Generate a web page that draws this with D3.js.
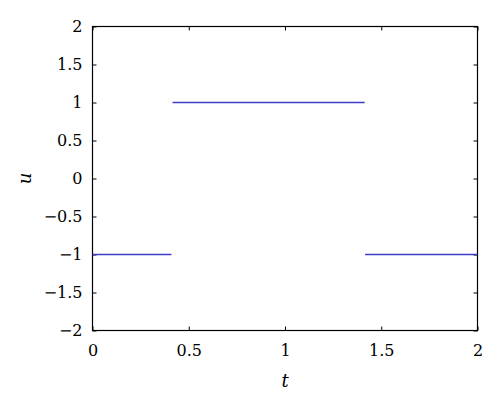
<!DOCTYPE html>
<html>
<head>
<meta charset="utf-8">
<script src="https://cdn.jsdelivr.net/npm/d3@7"></script>
<style>
  body { margin: 0; background: #fff; }
</style>
</head>
<body>
<div id="chart"></div>
<script>
// piecewise control u(t), one entry per segment
const segStart = [0, 0.416, 1.416]
const segEnd = [0.41, 1.414, 2]
const segValue = [-1, 1, -1]

const xTicks = [0, 0.5, 1, 1.5, 2]
const yTicks = [-2, -1.5, -1, -0.5, 0, 0.5, 1, 1.5, 2]

const serif = "'DejaVu Serif', serif"

const W = 500, H = 407
const margin = {top: 26.5, right: 22.5, bottom: 76.5, left: 92.5}
const width = W - margin.left - margin.right
const height = H - margin.top - margin.bottom

const svg = d3.select("#chart")
    .append("svg")
    .attr("width", W)
    .attr("height", H)
    .append("g")
    .attr("transform", "translate(" + margin.left + "," + margin.top + ")")

const x = d3.scaleLinear().domain([0, 2]).range([0, width])
const y = d3.scaleLinear().domain([-2, 2]).range([height, 0])

const fmt = d => d < 0 ? "\u2212" + Math.abs(d) : String(d)

function styleAxis(g, labels) {
    g.attr("font-family", serif)
    g.select(".domain").remove()
    g.selectAll("line").attr("stroke", "#000").attr("stroke-width", 1)
    g.selectAll("text")
        .attr("font-size", 16)
        .attr("fill", "#000")
        .style("font-family", serif)
        .style("display", labels ? null : "none")
}

// bottom & top
svg.append("g")
    .attr("transform", "translate(0," + height + ")")
    .call(d3.axisBottom(x).tickValues(xTicks).tickFormat(fmt).tickSize(-4).tickPadding(14))
    .call(g => styleAxis(g, true))
svg.append("g")
    .call(d3.axisTop(x).tickValues(xTicks).tickSize(-4))
    .call(g => styleAxis(g, false))

// left & right
svg.append("g")
    .call(d3.axisLeft(y).tickValues(yTicks).tickFormat(fmt).tickSize(-4).tickPadding(10))
    .call(g => styleAxis(g, true))
svg.append("g")
    .attr("transform", "translate(" + width + ",0)")
    .call(d3.axisRight(y).tickValues(yTicks).tickSize(-4))
    .call(g => styleAxis(g, false))

// box
svg.append("rect")
    .attr("width", width)
    .attr("height", height)
    .attr("fill", "none")
    .attr("stroke", "#000")
    .attr("stroke-width", 1.2)

// segments
svg.append("g")
    .selectAll("line")
    .data(segValue)
    .enter()
    .append("line")
    .attr("x1", (d, i) => x(segStart[i]))
    .attr("x2", (d, i) => x(segEnd[i]))
    .attr("y1", d => y(d))
    .attr("y2", d => y(d))
    .attr("stroke", "#3c3cc8")
    .attr("stroke-width", 1.6)

// axis labels
svg.append("text")
    .attr("x", width / 2)
    .attr("y", height + 56)
    .attr("text-anchor", "middle")
    .attr("font-size", 18)
    .attr("font-style", "italic")
    .style("font-family", serif)
    .text("t")

svg.append("text")
    .attr("transform", "translate(" + (-62) + "," + (height / 2) + ") rotate(-90)")
    .attr("text-anchor", "middle")
    .attr("font-size", 18)
    .attr("font-style", "italic")
    .style("font-family", serif)
    .text("u")
</script>
</body>
</html>
